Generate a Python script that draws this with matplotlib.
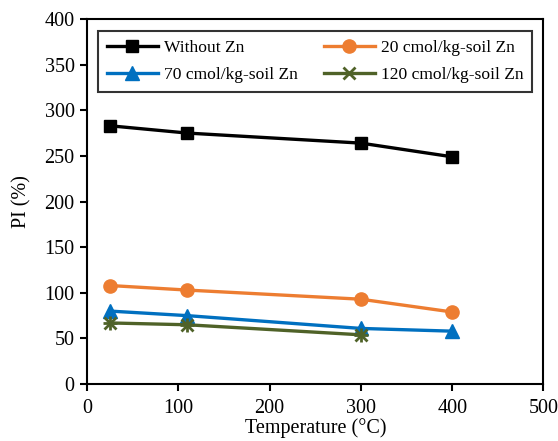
import matplotlib
matplotlib.use("Agg")
import matplotlib.pyplot as plt

plt.rcParams['font.family'] = ['Liberation Serif', 'DejaVu Serif']

temp_a = [25, 110, 300, 400]
temp_c = [25, 110, 300]
without_zn = [283, 275, 264, 249]
zn20 = [108, 103, 93, 79]
zn70 = [80, 75, 61, 58]
zn120 = [67, 65, 54]

labels = ["Without Zn", "20 cmol/kg-soil Zn", "70 cmol/kg-soil Zn", "120 cmol/kg-soil Zn"]
x_ticks = [0, 100, 200, 300, 400, 500]
y_ticks = [0, 50, 100, 150, 200, 250, 300, 350, 400]

fig = plt.figure(figsize=(5.58, 4.41), dpi=100)
ax = fig.add_axes([0.156, 0.129, 0.818, 0.828])

lw = 2.4
h0, = ax.plot(temp_a, without_zn, color='black', marker='s', markersize=9, lw=lw, label=labels[0])
h1, = ax.plot(temp_a, zn20, color='#ED7D31', marker='o', markersize=9.5, lw=lw, label=labels[1])
h2, = ax.plot(temp_a, zn70, color='#0070C0', marker='^', markersize=9.5, lw=lw, label=labels[2])
h3, = ax.plot(temp_c, zn120, color='#4F6228', marker='x', markersize=8, mew=2, lw=lw, label=labels[3])
ax.plot(temp_c, zn120, color='#4F6228', marker='+', markersize=10, mew=2, lw=0)

ax.set_xlim(0, 500)
ax.set_ylim(0, 400)
ax.set_xticks(x_ticks)
ax.set_yticks(y_ticks)
ax.tick_params(labelsize=14.5, direction='out', length=5, width=1.5, pad=4)
ax.tick_params(axis='x', pad=6)
for s in ax.spines.values():
    s.set_linewidth(1.5)
ax.set_xlabel("Temperature (°C)", fontsize=14.5, labelpad=0)
ax.set_ylabel("PI (%)", fontsize=14.5, labelpad=9)

leg = ax.legend([h0, h2, h1, h3], [labels[0], labels[2], labels[1], labels[3]],
                ncol=2, loc='upper center', bbox_to_anchor=(0.5, 0.968), fontsize=12.6,
                frameon=True, fancybox=False, edgecolor='black', handlelength=2.9,
                columnspacing=1.5, handletextpad=0.35, borderpad=0.5, labelspacing=0.65,
                borderaxespad=0)
leg.get_frame().set_linewidth(1.5)

fig.savefig("out.png", dpi=100)
